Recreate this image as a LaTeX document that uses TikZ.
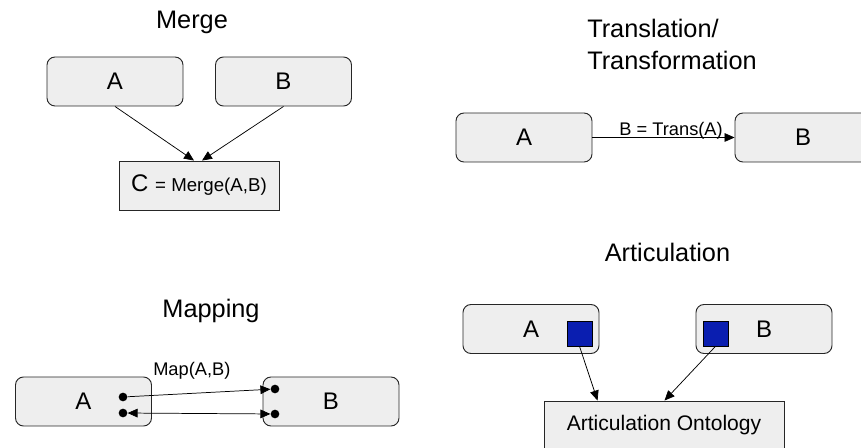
\documentclass[tikz,border=0pt]{standalone}
\usepackage{fontspec}
\setmainfont{Liberation Sans}
\usetikzlibrary{calc}
\usetikzlibrary{arrows.meta}
\usepackage{xcolor}
\definecolor{boxgray}{RGB}{238,238,238}
\definecolor{artblue}{RGB}{10,30,176}

\begin{document}
\begin{tikzpicture}[x=0.75pt, y=-0.75pt]
        % ================= styles =================
        \tikzset{
            % model boxes: rounded, light gray, big letter inside
            mbox/.style={rectangle, rounded corners=6pt, draw=black!85, line width=0.7pt, fill=boxgray,
                         minimum width=102pt, minimum height=36.75pt, inner sep=0pt,
                         font=\fontsize{18}{20}\selectfont},
            rbox/.style={mbox, rounded corners=0pt},
            ttl/.style={font=\fontsize{19}{24}\selectfont, inner sep=0pt},
            lbl/.style={font=\fontsize{13.7}{16}\selectfont, inner sep=0pt},
            dotn/.style={circle, fill=black, minimum size=6.5pt, inner sep=0pt},
            sqn/.style={rectangle, draw=black, line width=0.5pt, fill=artblue, minimum size=18.75pt, inner sep=0pt},
            tip/.style={-{Triangle[length=7.5pt,width=6.5pt]}},
            arr/.style={line width=0.55pt, black, tip}
        }
        \clip (0,0) rectangle (861,448);

        % ================= top left: Merge =================
        \begin{scope}
            % 1. title
            \node[ttl, anchor=base] (mTitle) at (192,29) {Merge};

            % 2. the two sources and the result
            \node[mbox] (mA) at (115,81.5)  {A};
            \node[mbox] (mB) at (283.5,81.5) {B};
            \node[rbox, minimum width=120pt] (mC) at (199,185.5)
                {C {\fontsize{14}{16}\selectfont = Merge(A,B)}};

            % 3. arrows into C
            \draw[arr] (mA.south) -- ($(mC.north)+(-5,0)$);
            \draw[arr] (mB.south) -- ($(mC.north)+(3,0)$);
        \end{scope}

        % ================= top right: Translation =================
        \begin{scope}
            % 1. title (two lines, left aligned)
            \node[ttl, anchor=base west] (tTitle1) at (587,38) {Translation/};
            \node[ttl, anchor=base west] (tTitle2) at (587,70) {Transformation};

            % 2. boxes (B runs past the right edge)
            \node[mbox] (tA) at (524,137.5) {A};
            \node[mbox] (tB) at (803,137.5) {B};

            % 3. arrow with its label
            \draw[arr] (tA.east) -- (tB.west);
            \node[lbl, anchor=base east] (tLbl) at (723,136) {B = Trans(A)};
        \end{scope}

        % ================= bottom left: Mapping =================
        \begin{scope}
            % 1. title
            \node[ttl, anchor=base] (pTitle) at (211,318) {Mapping};

            % 2. boxes and the points in them
            \node[mbox] (pA) at (83.5,401.5) {A};
            \node[mbox] (pB) at (331,401.5)  {B};
            \node[dotn] (pA1) at (123,397) {};
            \node[dotn] (pA2) at (123,413) {};
            \node[dotn] (pB1) at (275,389) {};
            \node[dotn] (pB2) at (275,414) {};

            % 3. the mapping arrows
            \draw[arr] (pA1) -- (pB1);
            \draw[arr, {Triangle[length=7.5pt,width=6.5pt]}-{Triangle[length=7.5pt,width=6.5pt]}] (pA2) -- (pB2);
            \node[lbl, anchor=base west] (pLbl) at (153,376) {Map(A,B)};
        \end{scope}

        % ================= bottom right: Articulation =================
        \begin{scope}
            % 1. title
            \node[ttl, anchor=base] (aTitle) at (667.5,262) {Articulation};

            % 2. boxes with their blue squares
            \node[mbox] (aA) at (531,329) {A};
            \node[mbox] (aB) at (764,329) {B};
            \node[sqn] (sqA) at (579.5,333.5) {};
            \node[sqn] (sqB) at (715.5,333.5) {};

            % 3. the articulation ontology (runs past the bottom edge)
            \node[rbox, minimum width=180pt, font=\fontsize{15.8}{18}\selectfont] (onto) at (664,425.5)
                {Articulation Ontology};

            % 4. arrows from the squares
            \draw[arr] (sqA.south) -- ($(onto.north west)+(54,0)$);
            \draw[arr] (sqB.south) -- ($(onto.north west)+(121,0)$);
        \end{scope}

    \end{tikzpicture}
\end{document}
